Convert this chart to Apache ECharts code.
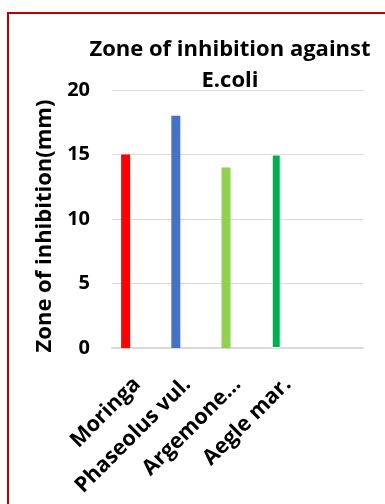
<!DOCTYPE html>
<html>
<head>
<meta charset="utf-8">
<script src="https://cdn.jsdelivr.net/npm/echarts@6/dist/echarts.min.js"></script>
<style>
  html, body { margin: 0; padding: 0; background: #ffffff; }
  #chart { width: 385px; height: 504px; }
</style>
</head>
<body>
<div id="chart"></div>
<script>
// Plant extracts tested against E. coli
const categories = ['Moringa', 'Phaseolus vul.', 'Argemone…', 'Aegle mar.', ''];
const zoneValues = [15, 18, 14, 15, null];
const barColors = ['#ff0000', '#4472c4', '#92d050', '#00b050'];
const yTicks = { min: 0, max: 20, interval: 5 };

const FONT = '"Open Sans"';
const chart = echarts.init(document.getElementById('chart'), null, { renderer: 'canvas' });

const barData = zoneValues.map((v, i) => ({
  value: v,
  itemStyle: i === 3
    ? { color: barColors[i], borderColor: '#ffffff', borderWidth: 1 }
    : { color: barColors[i] }
}));

chart.setOption({
  animation: false,
  backgroundColor: '#ffffff',
  graphic: [{
    type: 'rect',
    shape: { x: 8, y: 13, width: 420, height: 540 },
    style: { fill: 'none', stroke: '#c00000', lineWidth: 2 },
    silent: true,
    z: 100
  }],
  title: {
    text: 'Zone of inhibition against\nE.coli',
    left: 225,
    top: 29,
    textAlign: 'center',
    textStyle: { fontFamily: FONT, fontWeight: 'bold', fontSize: 22, lineHeight: 31, color: '#000000' }
  },
  grid: { left: 112, right: 22, top: 90, bottom: 156 },
  xAxis: {
    type: 'category',
    data: categories,
    axisLine: { show: true, lineStyle: { color: '#d9d9d9', width: 2 } },
    axisTick: { show: false },
    axisLabel: {
      interval: 0,
      rotate: 45,
      margin: 33,
      fontFamily: FONT,
      fontWeight: 'bold',
      fontSize: 21.5,
      color: '#000000'
    }
  },
  yAxis: {
    type: 'value',
    min: yTicks.min,
    max: yTicks.max,
    interval: yTicks.interval,
    name: 'Zone of inhibition(mm)',
    nameLocation: 'middle',
    nameGap: 56,
    nameTextStyle: { fontFamily: FONT, fontWeight: 'bold', fontSize: 22, color: '#000000', padding: [0, 14, 0, 0] },
    axisLine: { show: false },
    axisTick: { show: false },
    axisLabel: { margin: 22, fontFamily: FONT, fontWeight: 'bold', fontSize: 20, color: '#000000' },
    splitLine: { lineStyle: { color: '#d9d9d9', width: 1 } }
  },
  series: [
    {
      type: 'bar',
      data: barData,
      barWidth: 9,
      barGap: '155%'
    },
    {
      // empty companion series that keeps the bars left of each category centre
      type: 'bar',
      data: categories.map(() => null),
      barWidth: 9
    }
  ]
});
</script>
</body>
</html>
